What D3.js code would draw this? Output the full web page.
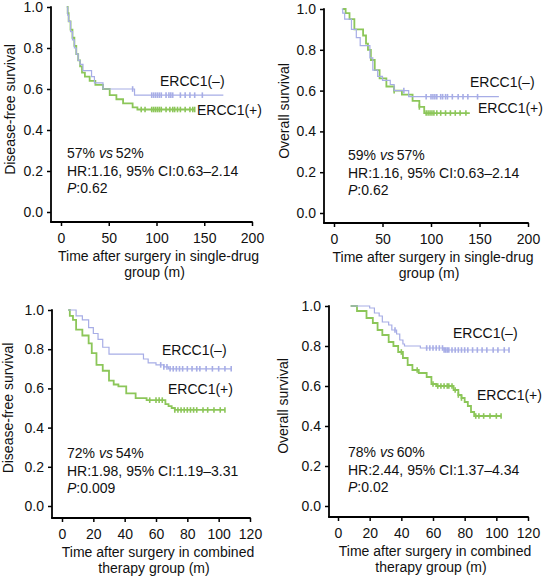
<!DOCTYPE html>
<html><head><meta charset="utf-8">
<script src="https://cdn.jsdelivr.net/npm/d3@7"></script>
<style>
body{margin:0;background:#fff;}
svg text{font-family:"Liberation Sans",Arial,sans-serif;fill:#111;}
</style></head>
<body><svg id="c" width="543" height="576"></svg>
<script>
// ---------- DATA ----------
const yTicks = [0, 0.2, 0.4, 0.6, 0.8, 1.0];
const xTicksSingle = [0, 50, 100, 150, 200];
const xTicksCombined = [0, 20, 40, 60, 80, 100, 120];
const seriesNames = ["ERCC1(\u2013)", "ERCC1(+)"];

// Panel 1: disease-free survival, single-drug
const p1NegT = [6, 7, 8, 10, 12, 14, 16, 18, 20, 23, 32, 35, 44, 77];
const p1NegS = [1.0, 0.96, 0.93, 0.88, 0.84, 0.80, 0.77, 0.74, 0.72, 0.69, 0.66, 0.63, 0.60, 0.57];
const p1NegEnd = 170;
const p1NegCens = [75, 95, 97, 99, 101, 103, 105, 110, 113, 115, 117, 125, 130, 135, 140, 148];
const p1PosT = [6, 7, 8, 10, 12, 14, 16, 18, 20, 22, 25, 30, 36, 44, 51, 58, 65, 75, 80];
const p1PosS = [1.0, 0.97, 0.93, 0.89, 0.85, 0.81, 0.77, 0.74, 0.71, 0.68, 0.66, 0.64, 0.62, 0.60, 0.57, 0.55, 0.53, 0.51, 0.50];
const p1PosEnd = 140;
const p1PosCens = [84, 88, 95, 97, 99, 101, 103, 105, 110, 114, 117, 119, 122, 125, 130, 135, 138, 140];

// Panel 2: overall survival, single-drug
const p2NegT = [8, 9, 11, 18, 23, 27, 37, 40, 45, 50, 58, 62, 77];
const p2NegS = [1.0, 0.98, 0.95, 0.90, 0.86, 0.82, 0.76, 0.70, 0.67, 0.65, 0.63, 0.60, 0.57];
const p2NegEnd = 170;
const p2NegCens = [72, 95, 100, 102, 104, 106, 110, 112, 115, 117, 122, 128, 133, 138, 148];
const p2PosT = [9, 12, 16, 21, 30, 33, 35, 38, 42, 47, 54, 62, 70, 81, 88, 93];
const p2PosS = [1.0, 0.98, 0.95, 0.90, 0.87, 0.83, 0.80, 0.75, 0.70, 0.66, 0.62, 0.60, 0.58, 0.55, 0.52, 0.49];
const p2PosEnd = 140;
const p2PosCens = [62, 88, 95, 97, 99, 101, 103, 106, 110, 115, 120, 125, 130, 136];

// Panel 3: disease-free survival, combined therapy
const p3NegT = [4, 9, 13, 17, 20, 23, 26, 30, 52, 55, 60, 65, 68];
const p3NegS = [1.0, 0.97, 0.95, 0.91, 0.88, 0.85, 0.81, 0.775, 0.75, 0.73, 0.72, 0.71, 0.70];
const p3NegEnd = 108;
const p3NegCens = [63, 65, 67, 69, 71, 73, 75, 77, 80, 83, 86, 88, 92, 96, 100, 104, 108];
const p3PosT = [4, 5, 7, 9, 13, 17, 19, 22, 26, 30, 33, 36, 41, 47, 54, 66, 68, 70, 72];
const p3PosS = [1.0, 0.97, 0.95, 0.90, 0.87, 0.83, 0.78, 0.72, 0.69, 0.64, 0.62, 0.61, 0.575, 0.55, 0.54, 0.52, 0.51, 0.50, 0.49];
const p3PosEnd = 104;
const p3PosCens = [56, 60, 62, 64, 72, 74, 76, 78, 80, 82, 84, 86, 90, 93, 97, 101, 104];

// Panel 4: overall survival, combined therapy
const p4NegT = [8, 20, 23, 26, 28, 32, 34, 37, 39, 41, 42, 52, 67];
const p4NegS = [1.0, 0.99, 0.965, 0.95, 0.92, 0.905, 0.88, 0.86, 0.83, 0.81, 0.80, 0.79, 0.78];
const p4NegEnd = 108;
const p4NegCens = [36, 56, 58, 60, 62, 64, 66, 67, 68, 69, 70, 72, 74, 76, 78, 80, 82, 85, 88, 91, 94, 98, 101, 105, 108];
const p4PosT = [8, 12, 18, 22, 25, 28, 32, 35, 38, 41, 44, 47, 51, 56, 59, 62, 73, 76, 78, 80, 82, 84, 86];
const p4PosS = [1.0, 0.975, 0.94, 0.915, 0.88, 0.855, 0.82, 0.80, 0.77, 0.74, 0.705, 0.68, 0.665, 0.645, 0.61, 0.60, 0.58, 0.555, 0.54, 0.52, 0.50, 0.47, 0.45];
const p4PosEnd = 103;
const p4PosCens = [40, 50, 60, 63, 65, 67, 69, 70, 72, 74, 76, 78, 87, 89, 92, 96, 100, 103];

const yTitles = ["Disease-free survival", "Overall survival", "Disease-free survival", "Overall survival"];
const xTitles = [["Time after surgery in single-drug", "group (m)"], ["Time after surgery in single-drug", "group (m)"],
                 ["Time after surgery in combined", "therapy group (m)"], ["Time after surgery in combined", "therapy group (m)"]];
const rateText = [["57%", "52%"], ["59%", "57%"], ["72%", "54%"], ["78%", "60%"]];
const hrText = ["HR:1.16, 95% CI:0.63\u20132.14", "HR:1.16, 95% CI:0.63\u20132.14", "HR:1.98, 95% CI:1.19\u20133.31", "HR:2.44, 95% CI:1.37\u20134.34"];
const pText = [":0.62", ":0.62", ":0.009", ":0.02"];

// ---------- LAYOUT ----------
const BLUE = "#a7ade6", GREEN = "#8cc659";
const panels = [
  {axisX:51, x0:61, x1:252, yTop:7, yBot:212, axY:222, xmax:200, ticks:xTicksSingle,
   neg:[p1NegT,p1NegS,p1NegEnd,p1NegCens], pos:[p1PosT,p1PosS,p1PosEnd,p1PosCens],
   negLab:[160,86], posLab:[197,115], ann:[67,158], ytX:15},
  {axisX:324, x0:334, x1:528, yTop:9, yBot:213, axY:223, xmax:200, ticks:xTicksSingle,
   neg:[p2NegT,p2NegS,p2NegEnd,p2NegCens], pos:[p2PosT,p2PosS,p2PosEnd,p2PosCens],
   negLab:[470,87], posLab:[478,113], ann:[348,160], ytX:289},
  {axisX:52, x0:62, x1:250, yTop:310, yBot:506, axY:518, xmax:120, ticks:xTicksCombined,
   neg:[p3NegT,p3NegS,p3NegEnd,p3NegCens], pos:[p3PosT,p3PosS,p3PosEnd,p3PosCens],
   negLab:[162,355], posLab:[168,394], ann:[67,458], ytX:13},
  {axisX:329, x0:338, x1:528, yTop:306, yBot:506, axY:517, xmax:120, ticks:xTicksCombined,
   neg:[p4NegT,p4NegS,p4NegEnd,p4NegCens], pos:[p4PosT,p4PosS,p4PosEnd,p4PosCens],
   negLab:[453,338], posLab:[477,400], ann:[348,457], ytX:288}
];

const svg = d3.select("#c");
const FS = "14px";

function stepAt(T, S, t) {
  let v = S[0];
  for (let i = 0; i < T.length; i++) if (T[i] <= t) v = S[i];
  return v;
}

panels.forEach((p, i) => {
  const x = d3.scaleLinear().domain([0, p.xmax]).range([p.x0, p.x1]);
  const y = d3.scaleLinear().domain([0, 1]).range([p.yBot, p.yTop]);
  const g = svg.append("g");

  // y axis
  const ya = g.append("g").attr("transform", `translate(${p.axisX},0)`)
    .call(d3.axisLeft(y).tickValues(yTicks).tickFormat(d3.format(".1f")).tickSize(4).tickPadding(4));
  ya.select(".domain").remove();
  ya.selectAll("line").attr("stroke", "#000").attr("stroke-width", 1.5);
  ya.selectAll("text").style("font-size", FS).attr("fill", "#111");
  g.append("line").attr("x1", p.axisX).attr("x2", p.axisX).attr("y1", p.yTop - 0.75).attr("y2", p.axY)
    .attr("stroke", "#000").attr("stroke-width", 1.8);

  // x axis
  const xa = g.append("g").attr("transform", `translate(0,${p.axY})`)
    .call(d3.axisBottom(x).tickValues(p.ticks).tickSize(4).tickPadding(7));
  xa.select(".domain").remove();
  xa.selectAll("line").attr("stroke", "#000").attr("stroke-width", 1.5);
  xa.selectAll("text").style("font-size", FS).attr("fill", "#111");
  g.append("line").attr("x1", p.axisX - 0.9).attr("x2", p.x1 + 0.75).attr("y1", p.axY).attr("y2", p.axY)
    .attr("stroke", "#000").attr("stroke-width", 1.8);

  // titles
  g.append("text").attr("transform", `translate(${p.ytX},${(p.yTop + p.yBot) / 2}) rotate(-90)`)
    .attr("text-anchor", "middle").style("font-size", FS).text(yTitles[i]);
  const xc = (p.x0 + p.x1) / 2;
  g.append("text").attr("x", xc + 2).attr("y", p.axY + 39).attr("text-anchor", "middle").style("font-size", FS).text(xTitles[i][0]);
  g.append("text").attr("x", xc - 2).attr("y", p.axY + 55).attr("text-anchor", "middle").style("font-size", FS).text(xTitles[i][1]);

  // curves
  const line = d3.line().x(d => x(d[0])).y(d => y(d[1])).curve(d3.curveStepAfter);
  [[p.pos, GREEN, 1.8], [p.neg, BLUE, 1.2]].forEach(([s, col, w]) => {
    const [T, S, end, C] = s;
    const pts = T.map((t, k) => [t, S[k]]);
    pts.push([end, S[S.length - 1]]);
    g.append("path").attr("d", line(pts)).attr("fill", "none").attr("stroke", col).attr("stroke-width", w);
    g.selectAll(null).data(C).enter().append("line")
      .attr("x1", d => x(d)).attr("x2", d => x(d))
      .attr("y1", d => y(stepAt(T, S, d)) - 2.8).attr("y2", d => y(stepAt(T, S, d)) + 2.8)
      .attr("stroke", col).attr("stroke-width", 1.6);
  });

  // labels
  g.append("text").attr("x", p.negLab[0]).attr("y", p.negLab[1]).style("font-size", FS).text(seriesNames[0]);
  g.append("text").attr("x", p.posLab[0]).attr("y", p.posLab[1]).style("font-size", FS).text(seriesNames[1]);

  // annotation
  const a1 = g.append("text").attr("x", p.ann[0]).attr("y", p.ann[1]).style("font-size", FS);
  a1.append("tspan").text(rateText[i][0] + " ");
  a1.append("tspan").style("font-style", "italic").text("vs");
  a1.append("tspan").text("\u2009" + rateText[i][1]);
  g.append("text").attr("x", p.ann[0]).attr("y", p.ann[1] + 17.5).style("font-size", FS).text(hrText[i]);
  const a3 = g.append("text").attr("x", p.ann[0]).attr("y", p.ann[1] + 35).style("font-size", FS);
  a3.append("tspan").style("font-style", "italic").text("P");
  a3.append("tspan").text(pText[i]);
});
</script>
</body></html>
